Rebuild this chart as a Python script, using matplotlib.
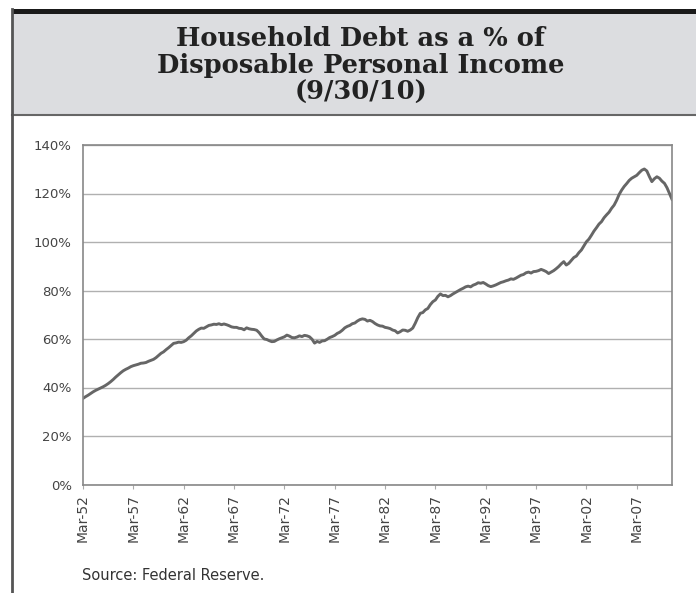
import numpy as np
import matplotlib.pyplot as plt
from matplotlib.patches import Rectangle
from matplotlib.lines import Line2D

# quarterly household debt / disposable personal income, Mar-52 .. Sep-10 (%)
debt_pct = [
    35.5, 36.2, 36.8, 37.5,   # 1952
    38.2, 38.8, 39.3, 39.8,
    40.3, 40.9, 41.6, 42.4,
    43.3, 44.3, 45.2, 46.1,
    46.9, 47.5, 48.0, 48.6,
    49.0, 49.3, 49.6, 50.0,   # 1957
    50.1, 50.3, 50.8, 51.2,
    51.6, 52.3, 53.2, 54.1,
    54.7, 55.6, 56.4, 57.3,
    58.2, 58.4, 58.7, 58.6,
    58.9, 59.5, 60.5, 61.3,   # 1962
    62.3, 63.3, 64.0, 64.5,
    64.4, 65.0, 65.6, 65.8,
    66.1, 66.0, 66.3, 65.9,
    66.2, 65.9, 65.5, 65.0,
    64.8, 64.8, 64.4, 64.3,   # 1967
    63.8, 64.6, 64.2, 64.0,
    63.9, 63.6, 62.6, 61.2,
    60.0, 59.8, 59.3, 58.9,
    59.0, 59.6, 60.1, 60.5,
    60.9, 61.6, 61.2, 60.6,   # 1972
    60.5, 60.8, 61.3, 61.0,
    61.5, 61.3, 60.9, 59.9,
    58.3, 59.0, 58.6, 59.2,
    59.3, 59.9, 60.6, 61.0,
    61.5, 62.3, 62.8, 63.6,   # 1977
    64.6, 65.2, 65.6, 66.3,
    66.6, 67.4, 68.0, 68.3,
    68.1, 67.4, 67.7, 67.2,
    66.4, 65.8, 65.4, 65.3,
    64.8, 64.6, 64.3, 63.7,   # 1982
    63.4, 62.5, 63.0, 63.7,
    63.6, 63.2, 63.7, 64.5,
    66.5, 68.8, 70.6, 70.9,
    72.0, 72.6, 74.2, 75.4,
    76.1, 77.6, 78.6, 77.9,   # 1987
    78.0, 77.4, 77.9, 78.6,
    79.2, 79.8, 80.4, 80.9,
    81.5, 81.8, 81.5, 82.2,
    82.6, 83.2, 83.0, 83.3,
    82.7, 82.0, 81.6, 81.9,   # 1992
    82.3, 82.8, 83.3, 83.6,
    84.0, 84.3, 84.8, 84.6,
    85.1, 85.7, 86.3, 86.6,
    87.3, 87.6, 87.2, 87.8,
    87.9, 88.2, 88.7, 88.3,   # 1997
    87.8, 87.0, 87.6, 88.2,
    89.0, 89.9, 91.0, 91.9,
    90.5, 91.2, 92.4, 93.6,
    94.2, 95.6, 96.7, 98.4,
    100.1, 101.2, 102.8, 104.5,   # 2002
    105.9, 107.4, 108.4, 110.0,
    111.2, 112.3, 113.9, 115.2,
    117.2, 119.6, 121.4, 122.9,
    124.1, 125.4, 126.3, 126.9,
    127.5, 128.6, 129.6, 130.1,   # 2007
    129.3, 127.0, 124.9, 126.1,
    126.9, 126.3, 125.1, 124.2,
    122.4, 120.0, 117.6,
]

tick_labels = ["Mar-52", "Mar-57", "Mar-62", "Mar-67", "Mar-72", "Mar-77",
               "Mar-82", "Mar-87", "Mar-92", "Mar-97", "Mar-02", "Mar-07"]
y_ticks = [0, 20, 40, 60, 80, 100, 120, 140]
title_lines = ["Household Debt as a % of", "Disposable Personal Income", "(9/30/10)"]

fig = plt.figure(figsize=(6.96, 5.93), dpi=100)
W, H = 696, 593

# frame: black band, grey header, left border
fig.add_artist(Rectangle((12 / W, 1 - 114 / H), 1, 100 / H, transform=fig.transFigure,
                         facecolor="#dcdde0", edgecolor="none", zorder=0))
fig.add_artist(Rectangle((12 / W, 1 - 14 / H), 1, 5 / H, transform=fig.transFigure,
                         facecolor="#1a1a1a", edgecolor="none", zorder=1))
fig.add_artist(Line2D([12 / W, 1], [1 - 114.5 / H] * 2, transform=fig.transFigure,
                      color="#666666", lw=1.5))
fig.add_artist(Line2D([12 / W] * 2, [0, 1 - 9 / H], transform=fig.transFigure,
                      color="#555555", lw=2))

for i, line in enumerate(title_lines):
    fig.text(361 / W, 1 - (38 + 27 * i) / H, line,
             ha="center", va="center", fontsize=18.5, fontweight="heavy",
             family="DejaVu Serif", color="#222222")

ax = fig.add_axes([83 / W, 1 - 484.5 / H, (672 - 83) / W, (484.5 - 145) / H])
x = np.arange(len(debt_pct))
ax.plot(x, debt_pct, color="#666666", lw=2.1, solid_joinstyle="round")

ax.set_xlim(0, len(debt_pct) - 1)
ax.set_ylim(0, 140)
ax.set_yticks(y_ticks)
ax.set_yticklabels([f"{v}%" for v in y_ticks])
ax.set_xticks(np.arange(0, len(debt_pct), 20))
ax.set_xticklabels(tick_labels, rotation=90)
ax.grid(axis="y", color="#b0b0b0", lw=1)
ax.set_axisbelow(True)
for s in ax.spines.values():
    s.set_color("#888888")
    s.set_linewidth(1.2)
ax.tick_params(axis="y", length=0, pad=8, labelsize=9.5, labelcolor="#444444")
ax.tick_params(axis="x", length=3, color="#aaaaaa", pad=4, labelsize=10, labelcolor="#444444")

fig.text(82 / W, 1 - 575 / H, "Source: Federal Reserve.", fontsize=10.5,
         color="#333333", va="center", ha="left")

fig.savefig("out.png", dpi=100)
